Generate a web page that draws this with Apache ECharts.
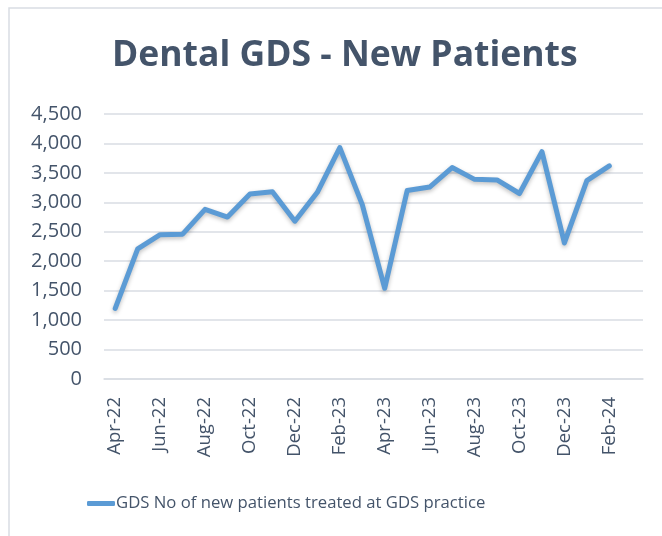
<!DOCTYPE html>
<html>
<head>
<meta charset="utf-8">
<script src="https://cdn.jsdelivr.net/npm/echarts@6/dist/echarts.min.js"></script>
<style>
html,body{margin:0;padding:0;background:#fff;}
#chart{width:662px;height:536px;}
</style>
</head>
<body>
<div id="chart"></div>
<script>
var categories = ['Apr-22','May-22','Jun-22','Jul-22','Aug-22','Sep-22','Oct-22','Nov-22','Dec-22','Jan-23','Feb-23','Mar-23','Apr-23','May-23','Jun-23','Jul-23','Aug-23','Sep-23','Oct-23','Nov-23','Dec-23','Jan-24','Feb-24','Mar-24'];
var newPatients = [1200,2210,2450,2460,2880,2750,3140,3180,2680,3170,3930,2960,1540,3200,3260,3590,3390,3380,3150,3860,2310,3370,3620,null];
var yTicks = {min:0, max:4500, interval:500};
var seriesName = 'GDS No of new patients treated at GDS practice';
var txt = '#44546A';

var chart = echarts.init(document.getElementById('chart'));
chart.setOption({
  animation:false,
  backgroundColor:'#fff',
  graphic:[{type:'rect',shape:{x:9,y:8,width:700,height:600},style:{fill:'none',stroke:'#D9DDE3',lineWidth:1.5},z:-1}],
  title:{text:'Dental GDS - New Patients',left:107,top:33,
    textStyle:{fontFamily:'Open Sans',fontWeight:'bold',fontSize:35.5,color:txt}},
  grid:{left:104,right:19,top:114,bottom:157},
  legend:{top:490,left:82,itemWidth:28,itemHeight:5,itemGap:6,
    textStyle:{fontFamily:'Open Sans',fontSize:16.7,color:txt,padding:[0,0,0,-4]},
    data:[{name:seriesName,icon:'roundRect'}]},
  xAxis:{type:'category',data:categories,boundaryGap:true,
    axisLine:{lineStyle:{color:'#D9DDE3',width:1.5}},axisTick:{show:false},
    axisLabel:{interval:1,rotate:90,margin:18,fontFamily:'Open Sans',fontSize:18.5,color:txt}},
  yAxis:{type:'value',min:yTicks.min,max:yTicks.max,interval:yTicks.interval,
    axisLine:{show:false},axisTick:{show:false},
    splitLine:{lineStyle:{color:'#D9DDE3',width:1.5}},
    axisLabel:{margin:22,fontFamily:'Open Sans',fontSize:20,color:txt,
      formatter:function(v){return v.toLocaleString('en-US');}}},
  series:[{name:seriesName,type:'line',data:newPatients,symbol:'none',connectNulls:false,
    lineStyle:{color:'#5B9BD5',width:5,cap:'round',join:'round',
      shadowColor:'rgba(0,0,0,0.25)',shadowBlur:4,shadowOffsetY:2},
    itemStyle:{color:'#5B9BD5'}}]
});
</script>
</body>
</html>
